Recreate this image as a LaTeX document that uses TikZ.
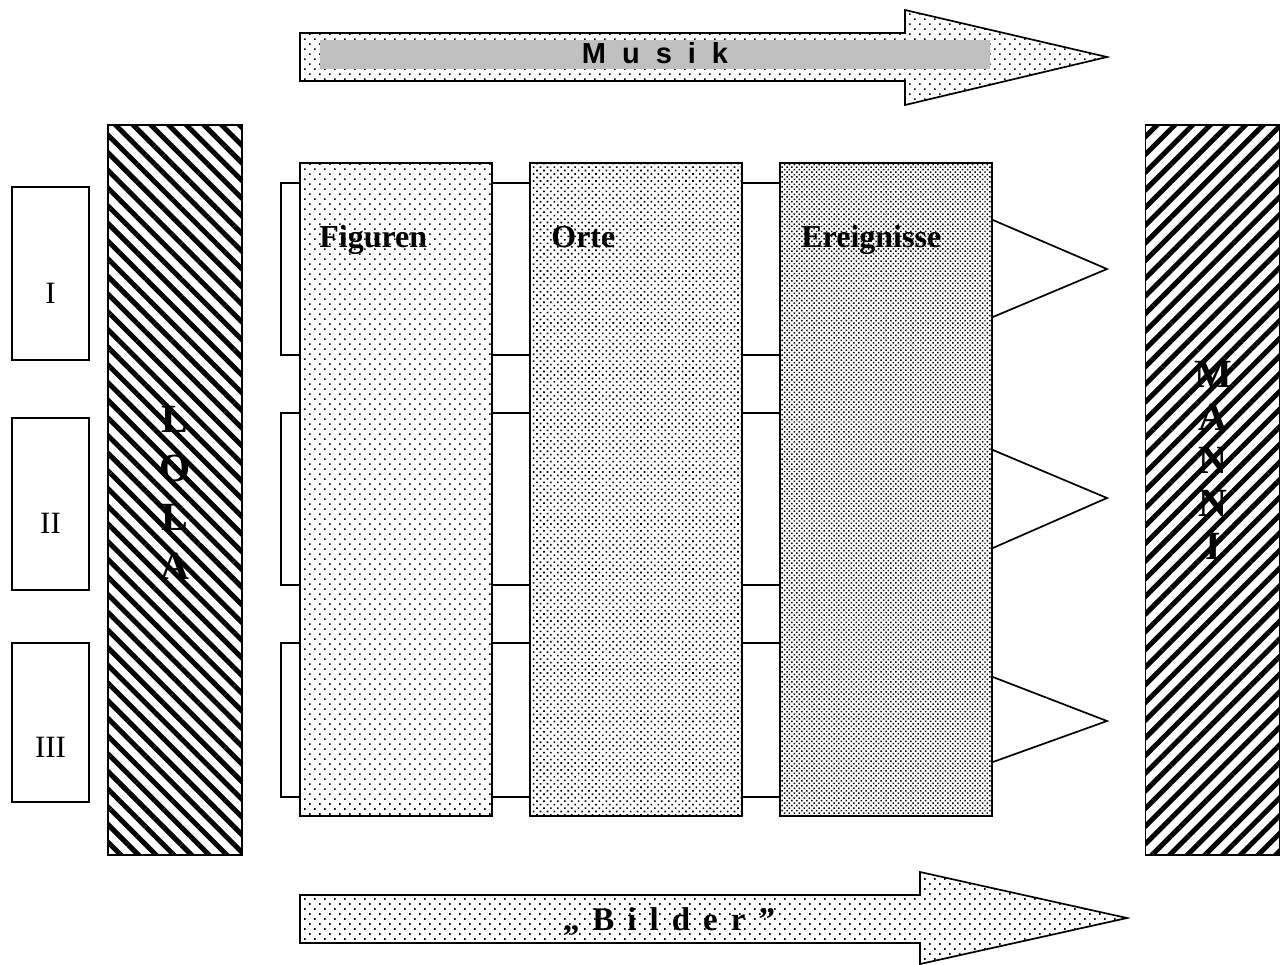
\documentclass[tikz,border=0pt]{standalone}
\usepackage{fontspec}
\setmainfont{Liberation Serif}
\setsansfont{Liberation Sans}
\usetikzlibrary{positioning, patterns.meta}
\tikzstyle{canvas} = [x = 1pt, y = -1pt]
\definecolor{bandColor}{RGB}{192,192,192}
\tikzstyle{outline} = [draw=black, line width=1.7pt]
\tikzstyle{sceneBoxStyle} = [outline, rectangle, minimum width=77pt, inner sep=0pt]
\tikzstyle{sceneText} = [font=\fontsize{31}{31}\selectfont, anchor=base, inner sep=0pt]
\tikzstyle{hatchBar} = [outline, rectangle, minimum width=134pt, minimum height=730pt, inner sep=0pt]
\tikzstyle{barText} = [align=center, inner sep=0pt]
\tikzstyle{contentColumn} = [outline, rectangle, minimum height=653pt, inner sep=0pt]
\tikzstyle{columnText} = [font=\fontsize{32}{32}\selectfont\bfseries, anchor=base west, inner sep=0pt]
\tikzstyle{connector} = [color=black, line width=1.7pt]
\tikzstyle{bigArrow} = [outline, pattern={Dots[angle=45, distance=7.07pt, radius=1.1pt]}]
\newcommand{\sceneBox}[4]{\node [sceneBoxStyle, minimum height=#3] (#1) at (50.5, #2) {};}
\newcommand{\gapText}{\hspace{13pt}}

\begin{document}
\begin{tikzpicture}[canvas]
        \useasboundingbox (0,0) rectangle (1284,964);

        % arrows
        \draw [bigArrow] (300,33) -- (905,33) -- (905,10) -- (1107,57) -- (905,105) -- (905,81) -- (300,81) -- cycle;
        \fill [bandColor] (320,40) rectangle (990,69);
        \node [font=\fontsize{29}{29}\selectfont\sffamily\bfseries, anchor=base, inner sep=0pt] (musik) at (655,63)
          {M\hspace{16pt}u\hspace{16pt}s\hspace{16pt}i\hspace{16pt}k};
        \draw [bigArrow] (300,895) -- (920,895) -- (920,872) -- (1127,918) -- (920,964) -- (920,943) -- (300,943) -- cycle;
        \node [font=\fontsize{33}{33}\selectfont\bfseries, anchor=base, inner sep=0pt] (bilder) at (669,930)
          {„\gapText B\gapText i\gapText l\gapText d\gapText e\gapText r\gapText ”};

        % scenes
        \sceneBox{sceneOne}{273.5}{173pt}{I}
        \sceneBox{sceneTwo}{504}{172pt}{II}
        \sceneBox{sceneThree}{722.5}{159pt}{III}
        \node [sceneText] (sceneOneText) at (50.5,303) {I};
        \node [sceneText] (sceneTwoText) at (50.5,533) {II};
        \node [sceneText] (sceneThreeText) at (50.5,757) {III};

        % hatched bars
        \node [hatchBar, pattern={Lines[angle=-45, distance=12.5pt, line width=5pt]}] (lola) at (175,490) {};
        \node [hatchBar, pattern={Lines[angle=45, distance=12.5pt, line width=5pt]}] (manni) at (1212.5,490) {};
        \node [barText, font=\fontsize{40}{49}\selectfont\bfseries] (lolaText) at (175,493) {L\\O\\L\\A};
        \node [barText, font=\fontsize{40}{43}\selectfont\bfseries] (manniText) at (1213,460) {M\\A\\N\\N\\I};

        % connectors
        \coordinate (bracketLeft) at (281,0);
        \node [contentColumn, minimum width=192pt] (figuren) at (396,489.5) {};
        \node [contentColumn, minimum width=212pt] (orte) at (636,489.5) {};
        \node [contentColumn, minimum width=212pt] (ereignisse) at (886,489.5) {};
        \foreach \top/\bottom in {183/355, 413/585, 643/797} {
          \draw [connector] (figuren.west |- 0,\top) -- (bracketLeft |- 0,\top) -- (bracketLeft |- 0,\bottom) -- (figuren.west |- 0,\bottom);
          \foreach \y in {\top,\bottom} {
            \draw [connector] (figuren.east |- 0,\y) -- (orte.west |- 0,\y);
            \draw [connector] (orte.east |- 0,\y) -- (ereignisse.west |- 0,\y);
          }
        }
        \foreach \top/\tip/\bottom in {220/269/317, 450/498/548, 677/721/762} {
          \draw [connector] (ereignisse.east |- 0,\top) -- (1107,\tip) -- (ereignisse.east |- 0,\bottom);
        }

        % columns
        \node [contentColumn, minimum width=192pt, pattern={Dots[angle=45, distance=7.07pt, radius=1.1pt]}] at (figuren) {};
        \node [contentColumn, minimum width=212pt, pattern={Dots[angle=45, distance=4.9pt, radius=1.15pt]}] at (orte) {};
        \node [contentColumn, minimum width=212pt, pattern={Dots[angle=45, distance=3.5pt, radius=1.05pt]}] at (ereignisse) {};
        \node [columnText] (figurenText) at ([shift={(20,85)}]figuren.north west) {Figuren};
        \node [columnText] (orteText) at ([shift={(22,85)}]orte.north west) {Orte};
        \node [columnText] (ereignisseText) at ([shift={(22,85)}]ereignisse.north west) {Ereignisse};
      \end{tikzpicture}
\end{document}
